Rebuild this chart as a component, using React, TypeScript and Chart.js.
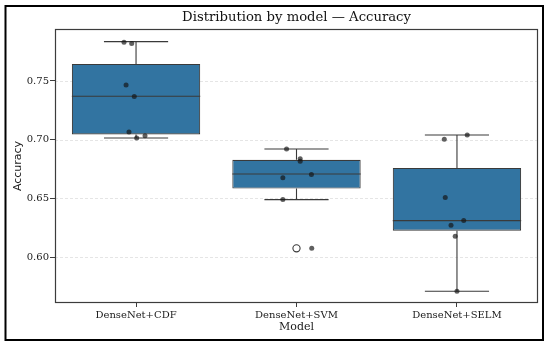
import React, { useEffect, useRef } from "react";
import { Chart, registerables } from "chart.js";

Chart.register(...registerables);

const categories = ["DenseNet+CDF", "DenseNet+SVM", "DenseNet+SELM"];
const yTicks = [0.6, 0.65, 0.7, 0.75];

const q1 = [0.7045, 0.6583, 0.6224];
const median = [0.737, 0.6707, 0.631];
const q3 = [0.7645, 0.6828, 0.6759];
const whiskerLow = [0.7014, 0.6489, 0.5708];
const whiskerHigh = [0.7835, 0.6921, 0.704];

const outlierCat = [1];
const outlierValue = [0.6074];

const cdfValues = [0.783, 0.782, 0.7466, 0.7367, 0.7066, 0.7014, 0.7034];
const cdfJitter = [-0.075, -0.027, -0.062, -0.011, -0.044, 0.004, 0.056];
const svmValues = [0.692, 0.6838, 0.6815, 0.6676, 0.6703, 0.6489, 0.6074];
const svmJitter = [-0.062, 0.023, 0.023, -0.085, 0.093, -0.085, 0.095];
const selmValues = [0.7003, 0.704, 0.6508, 0.627, 0.631, 0.6176, 0.5708];
const selmJitter = [-0.079, 0.064, -0.073, -0.037, 0.042, -0.011, 0.0];

const TITLE = "Distribution by model \u2014 Accuracy";
const SERIF = '"DejaVu Serif", serif';

export default function App() {
  const ref = useRef<HTMLCanvasElement | null>(null);

  useEffect(() => {
    document.body.style.margin = "0";
    const canvas = ref.current;
    if (!canvas) return;

    const pointData = [
      ...cdfValues.map((v, i) => ({ x: 0 + cdfJitter[i], y: v })),
      ...svmValues.map((v, i) => ({ x: 1 + svmJitter[i], y: v })),
      ...selmValues.map((v, i) => ({ x: 2 + selmJitter[i], y: v })),
    ];

    const boxPlugin = {
      id: "boxExtras",
      beforeDatasetsDraw(chart: any) {
        const { ctx, chartArea } = chart;
        const ys = chart.scales.y;
        ctx.save();
        ctx.strokeStyle = "rgba(0,0,0,0.13)";
        ctx.lineWidth = 0.8;
        ctx.setLineDash([3, 2]);
        for (const t of yTicks) {
          const py = Math.round(ys.getPixelForValue(t)) + 0.5;
          ctx.beginPath();
          ctx.moveTo(chartArea.left, py);
          ctx.lineTo(chartArea.right, py);
          ctx.stroke();
        }
        ctx.restore();
      },
      afterDatasetDraw(chart: any, args: any) {
        if (args.index !== 0) return;
        const { ctx } = chart;
        const xs = chart.scales.x;
        const ys = chart.scales.y;
        const meta = chart.getDatasetMeta(0);
        ctx.save();
        ctx.strokeStyle = "#3a3a3a";
        ctx.lineWidth = 1.1;
        categories.forEach((_, i) => {
          const el = meta.data[i];
          const cx = xs.getPixelForValue(i);
          const capL = xs.getPixelForValue(i - 0.2);
          const capR = xs.getPixelForValue(i + 0.2);
          const yHi = ys.getPixelForValue(whiskerHigh[i]);
          const yLo = ys.getPixelForValue(whiskerLow[i]);
          const yQ3 = ys.getPixelForValue(q3[i]);
          const yQ1 = ys.getPixelForValue(q1[i]);
          const yMed = ys.getPixelForValue(median[i]);
          ctx.beginPath();
          ctx.moveTo(cx, yQ3);
          ctx.lineTo(cx, yHi);
          ctx.moveTo(capL, yHi);
          ctx.lineTo(capR, yHi);
          ctx.moveTo(cx, yQ1);
          ctx.lineTo(cx, yLo);
          ctx.moveTo(capL, yLo);
          ctx.lineTo(capR, yLo);
          ctx.moveTo(el.x - el.width / 2, yMed);
          ctx.lineTo(el.x + el.width / 2, yMed);
          ctx.stroke();
        });
        ctx.restore();
      },
      afterDraw(chart: any) {
        const { ctx, chartArea } = chart;
        ctx.save();
        ctx.strokeStyle = "#3c3c3c";
        ctx.lineWidth = 1.2;
        ctx.strokeRect(
          chartArea.left + 0.5,
          chartArea.top + 0.5,
          chartArea.right - chartArea.left - 1,
          chartArea.bottom - chartArea.top - 1
        );
        ctx.fillStyle = "#111";
        ctx.font = `13.2px ${SERIF}`;
        ctx.textAlign = "center";
        ctx.textBaseline = "middle";
        ctx.fillText(TITLE, (chartArea.left + chartArea.right) / 2, 18);
        ctx.strokeStyle = "#000";
        ctx.lineWidth = 2;
        ctx.strokeRect(5.5, 6, 537.5, 334);
        ctx.restore();
      },
    };

    const chart = new Chart(canvas, {
      type: "bar",
      data: {
        datasets: [
          {
            type: "bar",
            label: "box",
            data: categories.map((_, i) => ({ x: i, y: [q1[i], q3[i]] })) as any,
            backgroundColor: "#3274a1",
            borderColor: "#3a3a3a",
            borderWidth: 1.1,
            borderSkipped: false,
            barPercentage: 0.8,
            categoryPercentage: 1,
            order: 2,
          } as any,
          {
            type: "scatter",
            label: "outliers",
            data: outlierCat.map((c, i) => ({ x: c, y: outlierValue[i] })),
            pointRadius: 3.6,
            pointBackgroundColor: "#ffffff",
            pointBorderColor: "#3a3a3a",
            pointBorderWidth: 1.1,
            order: 1,
          } as any,
          {
            type: "scatter",
            label: "points",
            data: pointData,
            pointRadius: 2.5,
            pointBackgroundColor: "rgba(20,20,20,0.68)",
            pointBorderWidth: 0,
            order: 0,
          } as any,
        ],
      },
      options: {
        responsive: false,
        animation: false,
        events: [],
        layout: { padding: { left: 0, right: 12, top: 29, bottom: 0 } },
        plugins: {
          legend: { display: false },
          tooltip: { enabled: false },
          title: { display: false },
        },
        scales: {
          x: {
            type: "linear",
            min: -0.505,
            max: 2.505,
            offset: false,
            afterBuildTicks: (s: any) => {
              s.ticks = categories.map((_, i) => ({ value: i }));
            },
            afterFit: (s: any) => {
              s.height = 43;
            },
            grid: {
              offset: false,
              drawOnChartArea: false,
              drawTicks: true,
              tickLength: 4,
              tickColor: "#3c3c3c",
            },
            border: { display: false },
            ticks: {
              padding: 2,
              color: "#1a1a1a",
              font: { family: SERIF, size: 10 },
              callback: (v: any) => categories[Math.round(Number(v))] ?? "",
            },
            title: {
              display: true,
              text: "Model",
              color: "#1a1a1a",
              font: { family: SERIF, size: 11 },
              padding: { top: 0, bottom: 12 },
            },
          },
          y: {
            type: "linear",
            min: 0.5608,
            max: 0.7943,
            afterBuildTicks: (s: any) => {
              s.ticks = yTicks.map((v) => ({ value: v }));
            },
            afterFit: (s: any) => {
              s.width = 55;
            },
            grid: {
              drawOnChartArea: false,
              drawTicks: true,
              tickLength: 5,
              tickColor: "#3c3c3c",
            },
            border: { display: false },
            ticks: {
              padding: 1,
              color: "#1a1a1a",
              font: { family: SERIF, size: 10 },
              callback: (v: any) => Number(v).toFixed(2),
            },
            title: {
              display: true,
              text: "Accuracy",
              color: "#1a1a1a",
              font: { family: '"DejaVu Sans", sans-serif', size: 11 },
              padding: { top: 12, bottom: 0 },
            },
          },
        },
      } as any,
      plugins: [boxPlugin],
    });

    return () => chart.destroy();
  }, []);

  return (
    <div style={{ width: 550, height: 346, position: "relative" }}>
      <canvas ref={ref} width={550} height={346} style={{ display: "block" }} />
    </div>
  );
}
